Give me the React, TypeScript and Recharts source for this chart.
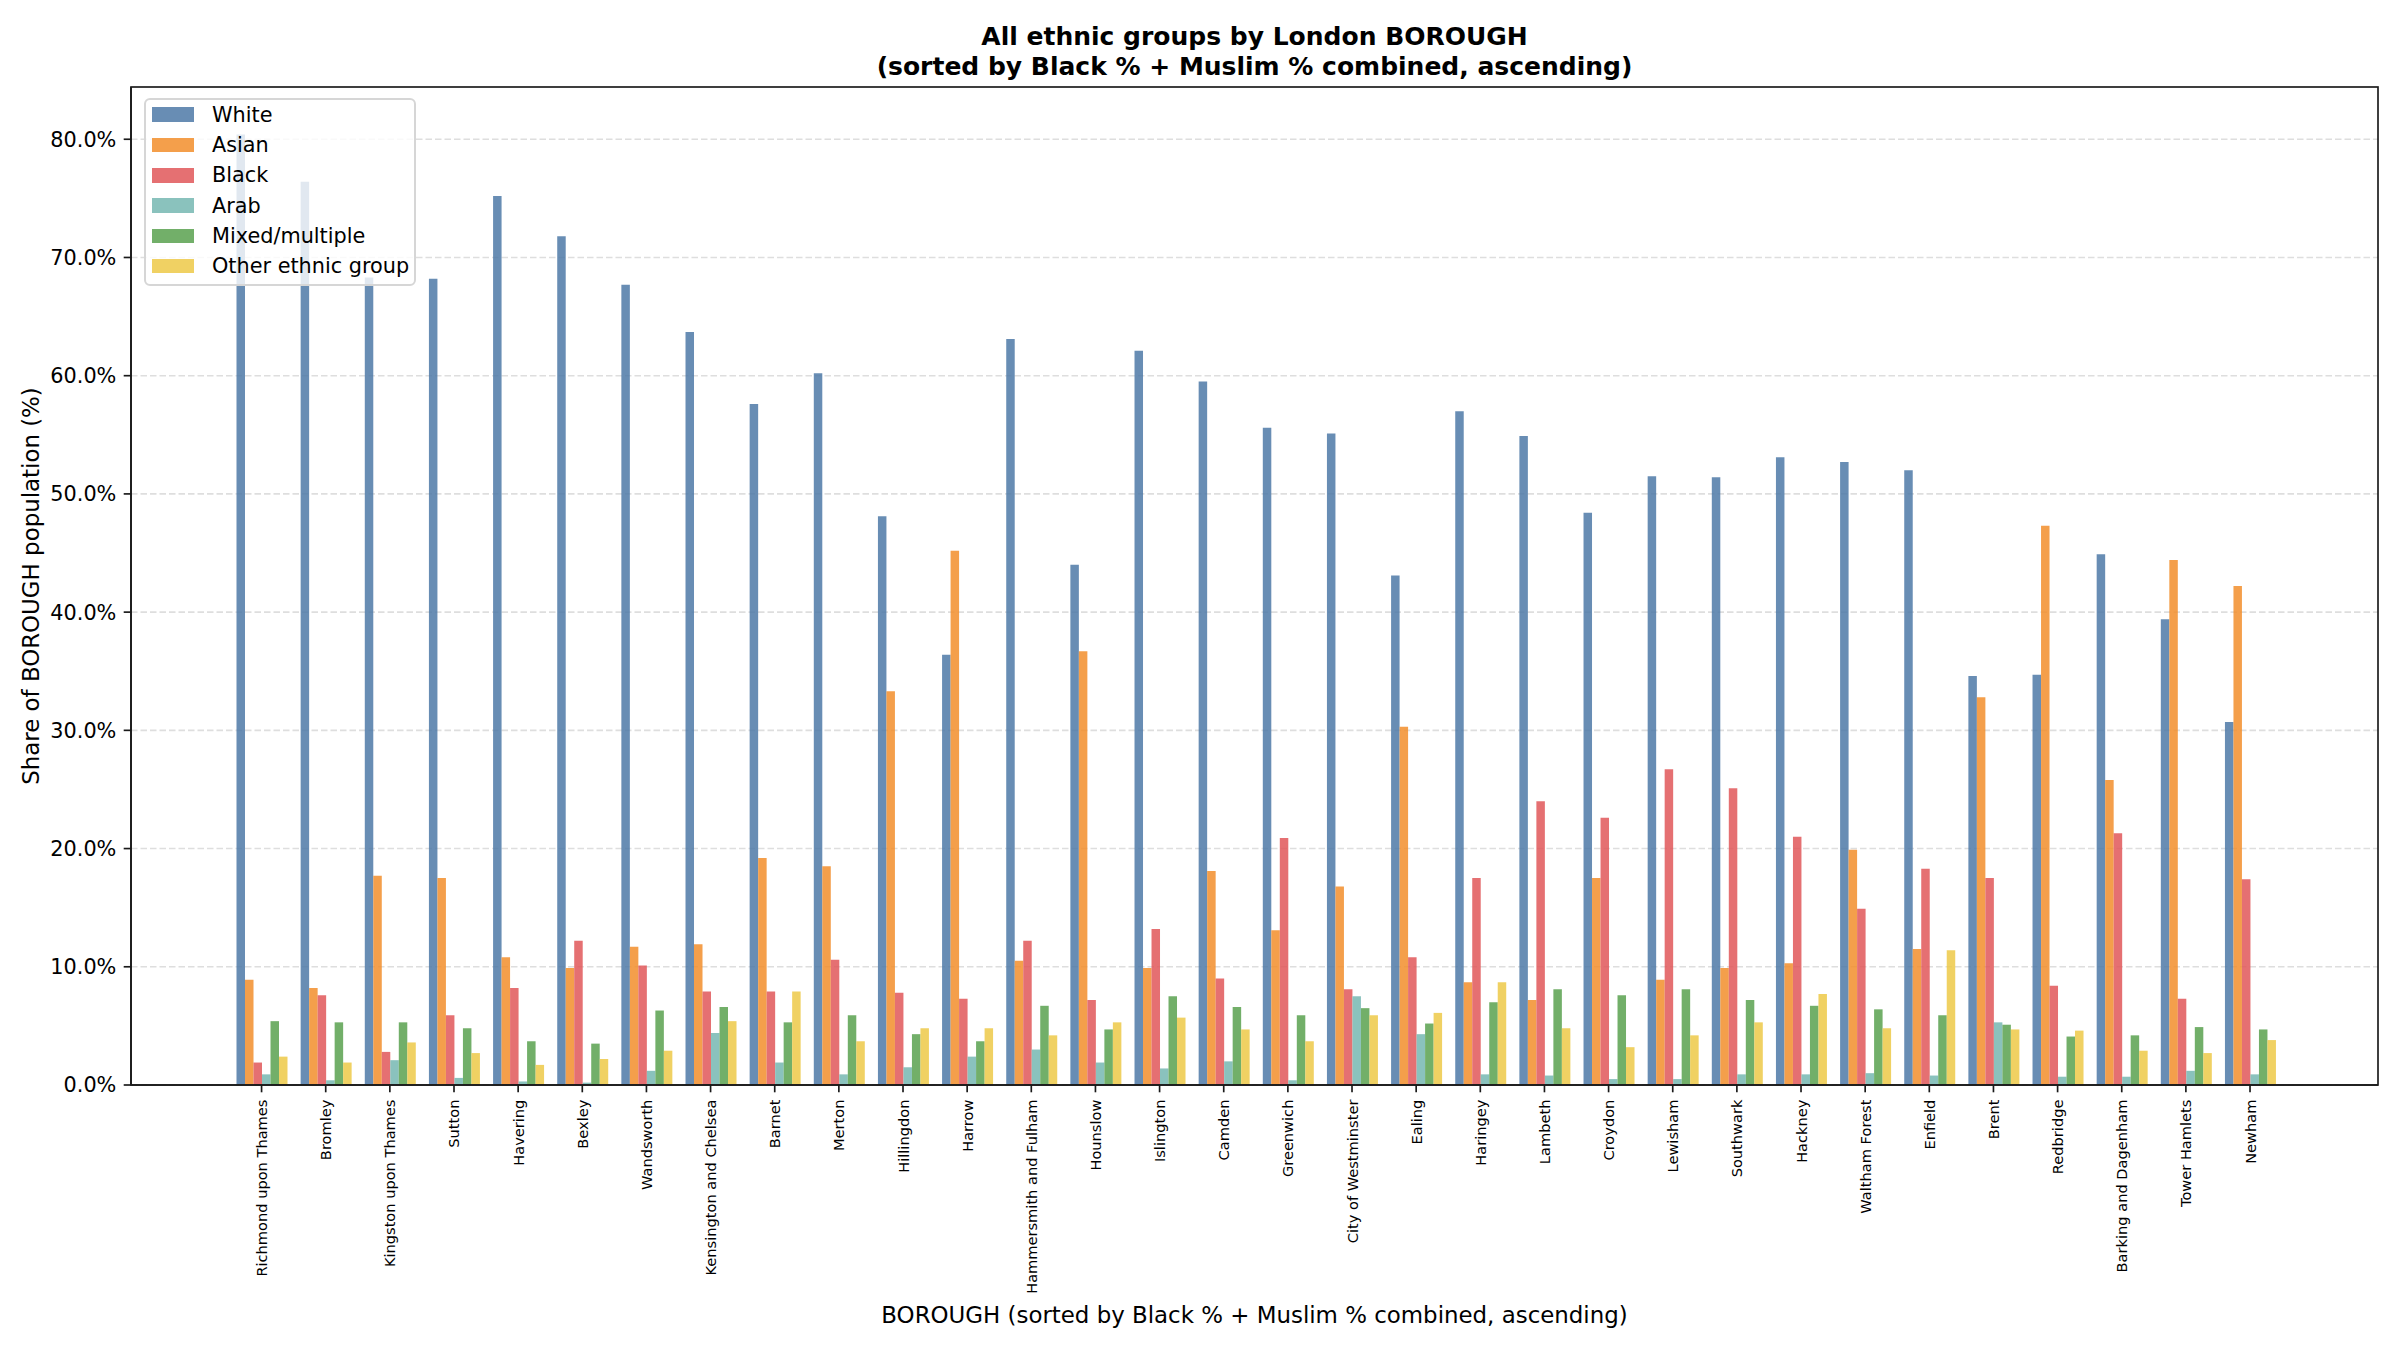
import React from 'react';
import { BarChart, Bar, XAxis, YAxis, CartesianGrid, Legend } from 'recharts';

const boroughs = [
  'Richmond upon Thames', 'Bromley', 'Kingston upon Thames', 'Sutton', 'Havering', 'Bexley',
  'Wandsworth', 'Kensington and Chelsea', 'Barnet', 'Merton', 'Hillingdon', 'Harrow',
  'Hammersmith and Fulham', 'Hounslow', 'Islington', 'Camden', 'Greenwich', 'City of Westminster',
  'Ealing', 'Haringey', 'Lambeth', 'Croydon', 'Lewisham', 'Southwark', 'Hackney',
  'Waltham Forest', 'Enfield', 'Brent', 'Redbridge', 'Barking and Dagenham', 'Tower Hamlets', 'Newham',
];

const white = [80.4, 76.4, 68.3, 68.2, 75.2, 71.8, 67.7, 63.7, 57.6, 60.2, 48.1, 36.4, 63.1, 44.0, 62.1, 59.5, 55.6, 55.1, 43.1, 57.0, 54.9, 48.4, 51.5, 51.4, 53.1, 52.7, 52.0, 34.6, 34.7, 44.9, 39.4, 30.7];
const asian = [8.9, 8.2, 17.7, 17.5, 10.8, 9.9, 11.7, 11.9, 19.2, 18.5, 33.3, 45.2, 10.5, 36.7, 9.9, 18.1, 13.1, 16.8, 30.3, 8.7, 7.2, 17.5, 8.9, 9.9, 10.3, 19.9, 11.5, 32.8, 47.3, 25.8, 44.4, 42.2];
const black = [1.9, 7.6, 2.8, 5.9, 8.2, 12.2, 10.1, 7.9, 7.9, 10.6, 7.8, 7.3, 12.2, 7.2, 13.2, 9.0, 20.9, 8.1, 10.8, 17.5, 24.0, 22.6, 26.7, 25.1, 21.0, 14.9, 18.3, 17.5, 8.4, 21.3, 7.3, 17.4];
const arab = [0.9, 0.4, 2.1, 0.6, 0.3, 0.2, 1.2, 4.4, 1.9, 0.9, 1.5, 2.4, 3.0, 1.9, 1.4, 2.0, 0.4, 7.5, 4.3, 0.9, 0.8, 0.5, 0.5, 0.9, 0.9, 1.0, 0.8, 5.3, 0.7, 0.7, 1.2, 0.9];
const mixed = [5.4, 5.3, 5.3, 4.8, 3.7, 3.5, 6.3, 6.6, 5.3, 5.9, 4.3, 3.7, 6.7, 4.7, 7.5, 6.6, 5.9, 6.5, 5.2, 7.0, 8.1, 7.6, 8.1, 7.2, 6.7, 6.4, 5.9, 5.1, 4.1, 4.2, 4.9, 4.7];
const other = [2.4, 1.9, 3.6, 2.7, 1.7, 2.2, 2.9, 5.4, 7.9, 3.7, 4.8, 4.8, 4.2, 5.3, 5.7, 4.7, 3.7, 5.9, 6.1, 8.7, 4.8, 3.2, 4.2, 5.3, 7.7, 4.8, 11.4, 4.7, 4.6, 2.9, 2.7, 3.8];

const seriesNames = ['White', 'Asian', 'Black', 'Arab', 'Mixed/multiple', 'Other ethnic group'];
const seriesKeys = ['white', 'asian', 'black', 'arab', 'mixed', 'other'];
const seriesColors = ['#4e79a7', '#f28e2b', '#e15759', '#76b7b2', '#59a14f', '#edc948'];
const yTicks = [0, 10, 20, 30, 40, 50, 60, 70, 80];

const titleLines = ['All ethnic groups by London BOROUGH', '(sorted by Black % + Muslim % combined, ascending)'];
const xLabel = 'BOROUGH (sorted by Black % + Muslim % combined, ascending)';
const yLabel = 'Share of BOROUGH population (%)';

const data = boroughs.map((b, i) => ({
  borough: b,
  white: white[i],
  asian: asian[i],
  black: black[i],
  arab: arab[i],
  mixed: mixed[i],
  other: other[i],
}));

const FONT = 'DejaVu Sans, Verdana, sans-serif';
const AXIS = '#1a1a1a';
const W = 2400;
const H = 1350;
const PLOT_L = 131;
const PLOT_R = 2378;
const PLOT_T = 87;
const PLOT_B = 1085;
const Y_MAX = 84.42;

const BoroughTick = (props: any) => {
  const { x, y, payload } = props;
  return (
    <text
      x={x}
      y={y}
      transform={`rotate(-90 ${x} ${y})`}
      textAnchor="end"
      dominantBaseline="central"
      fontSize={14.6}
      fontFamily={FONT}
      fill="#000"
    >
      {payload.value}
    </text>
  );
};

const LegendBox = () => (
  <div
    style={{
      position: 'relative',
      width: 272,
      height: 188,
      boxSizing: 'border-box',
      background: 'rgba(255,255,255,0.8)',
      border: '2px solid #d6d6d6',
      borderRadius: 6,
      fontFamily: FONT,
      fontSize: 20.8,
      color: '#000',
    }}
  >
    {seriesNames.map((name, i) => (
      <div key={name}>
        <div
          style={{
            position: 'absolute',
            left: 6,
            top: 16.7 + 30.3 * i - 7.3 - 2,
            width: 42,
            height: 14.6,
            background: seriesColors[i],
            opacity: 0.85,
          }}
        />
        <div
          style={{
            position: 'absolute',
            left: 66,
            top: 16.7 + 30.3 * i - 12 - 2,
            height: 24,
            lineHeight: '24px',
            whiteSpace: 'nowrap',
          }}
        >
          {name}
        </div>
      </div>
    ))}
  </div>
);

export default function App() {
  return (
    <div style={{ position: 'absolute', left: 0, top: 0, width: W, height: H, background: '#fff' }}>
      <BarChart
        width={W}
        height={H}
        data={data}
        margin={{ top: PLOT_T, right: W - PLOT_R, bottom: 0, left: 0 }}
        barSize={8.5}
        barGap={0}
      >
        <CartesianGrid
          vertical={false}
          horizontalValues={yTicks}
          stroke="#dedede"
          strokeWidth={1.6}
          strokeDasharray="6.5 3"
        />
        <XAxis
          dataKey="borough"
          interval={0}
          tick={<BoroughTick />}
          tickSize={7.3}
          tickMargin={7.3}
          tickLine={{ stroke: AXIS, strokeWidth: 1.67 }}
          axisLine={{ stroke: AXIS, strokeWidth: 1.67 }}
          height={H - PLOT_B}
          padding={{ left: 98.5, right: 95.9 }}
        />
        <YAxis
          domain={[0, Y_MAX]}
          ticks={yTicks}
          tickFormatter={(v: number) => `${v.toFixed(1)}%`}
          tickSize={7.3}
          tickMargin={7.3}
          tick={{ fontSize: 20.8, fill: '#000', fontFamily: FONT }}
          tickLine={{ stroke: AXIS, strokeWidth: 1.67 }}
          axisLine={{ stroke: AXIS, strokeWidth: 1.67 }}
          width={PLOT_L}
        />
        {seriesKeys.map((k, i) => (
          <Bar
            key={k}
            dataKey={k}
            name={seriesNames[i]}
            fill={seriesColors[i]}
            fillOpacity={0.85}
            isAnimationActive={false}
          />
        ))}
        <Legend
          layout="horizontal"
          align="center"
          verticalAlign="middle"
          wrapperStyle={{ left: 144, top: 98, width: 272, height: 188 }}
          content={() => <LegendBox />}
        />
      </BarChart>
      <svg
        width={W}
        height={H}
        style={{ position: 'absolute', left: 0, top: 0, pointerEvents: 'none' }}
      >
        <rect
          x={PLOT_L}
          y={PLOT_T}
          width={PLOT_R - PLOT_L}
          height={PLOT_B - PLOT_T}
          fill="none"
          stroke={AXIS}
          strokeWidth={1.67}
        />
        {titleLines.map((t, i) => (
          <text
            key={t}
            x={(PLOT_L + PLOT_R) / 2}
            y={45 + 30 * i}
            textAnchor="middle"
            fontSize={25}
            fontWeight="bold"
            fontFamily={FONT}
            fill="#000"
          >
            {t}
          </text>
        ))}
        <text
          x={(PLOT_L + PLOT_R) / 2}
          y={1322.7}
          textAnchor="middle"
          fontSize={22.9}
          fontFamily={FONT}
          fill="#000"
        >
          {xLabel}
        </text>
        <text
          x={31}
          y={(PLOT_T + PLOT_B) / 2}
          transform={`rotate(-90 31 ${(PLOT_T + PLOT_B) / 2})`}
          textAnchor="middle"
          dominantBaseline="central"
          fontSize={22.9}
          fontFamily={FONT}
          fill="#000"
        >
          {yLabel}
        </text>
      </svg>
    </div>
  );
}
